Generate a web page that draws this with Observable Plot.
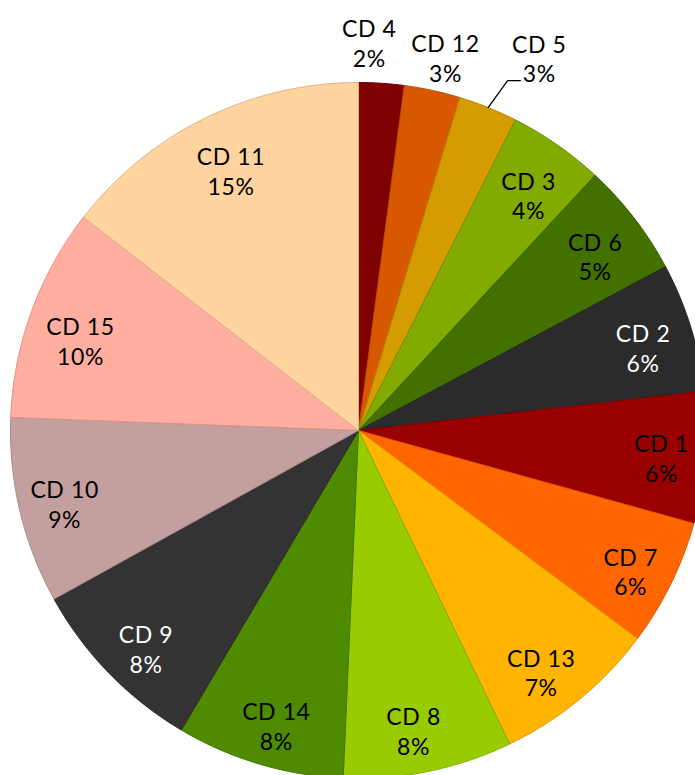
<!DOCTYPE html>
<html><head><meta charset="utf-8">
<script src="https://cdn.jsdelivr.net/npm/d3@7"></script>
<script src="https://cdn.jsdelivr.net/npm/@observablehq/plot@0.6"></script>
<style>html,body{margin:0;padding:0;background:#fff;overflow:hidden} svg{display:block} svg text{letter-spacing:0.6px}</style>
</head><body><div id="chart"></div>
<script>
// Data (clockwise from 12 o'clock)
const categories = ["CD 4","CD 12","CD 5","CD 3","CD 6","CD 2","CD 1","CD 7","CD 13","CD 8","CD 14","CD 9","CD 10","CD 15","CD 11"];
const shares     = [2.1, 2.6, 2.75, 4.45, 5.3, 6.0, 6.1, 5.9, 7.65, 7.85, 7.8, 8.45, 8.65, 9.9, 14.5];
const pctLabels  = ["2%","3%","3%","4%","5%","6%","6%","6%","7%","8%","8%","8%","9%","10%","15%"];
const colors     = ["#7f0000","#d75800","#d49c00","#82aa00","#437100","#2b2b2b","#990000","#ff6600","#ffb400","#99cc00","#4f8b00","#333333","#c49f9f","#ffaea0","#ffd49e"];
const whiteText  = ["CD 2","CD 9"];

// layout config (label distance from centre as a fraction of the radius, angle tweak in degrees)
const labelPlace = {
  "CD 4": {r: 1.115, da: -2.2}, "CD 12": {r: 1.10, da: 0.9}, "CD 5": {r: 1.19, da: 4},
  "CD 3": {r: 0.835, da: 1}, "CD 6": {r: 0.845, da: 1.2}, "CD 2": {r: 0.852, da: 1}, "CD 1": {r: 0.874, da: 0.5},
  "CD 7": {r: 0.88, da: 1.2}, "CD 13": {r: 0.87, da: 2.4}, "CD 8": {r: 0.876, da: 1.2}, "CD 14": {r: 0.88, da: -1},
  "CD 9": {r: 0.874, da: -1.5}, "CD 10": {r: 0.87, da: -0.5}, "CD 15": {r: 0.84, da: -2}, "CD 11": {r: 0.833}
};
const font = "Lato, 'Gill Sans', 'Open Sans', sans-serif";

const total = d3.sum(shares);
const rad = Math.PI / 180;
let acc = 0;
const slices = categories.map((c, i) => {
  const a0 = acc / total * 2 * Math.PI; acc += shares[i];
  const a1 = acc / total * 2 * Math.PI;
  return {c, i, a0, a1, mid: (a0 + a1) / 2};
});

const sliceMarks = slices.map(s => {
  const n = Math.max(2, Math.ceil((s.a1 - s.a0) / (0.4 * rad)));
  const pts = [{x: 0, y: 0}];
  for (let k = 0; k <= n; k++) {
    const a = s.a0 + (s.a1 - s.a0) * k / n;
    pts.push({x: Math.sin(a), y: Math.cos(a)});
  }
  pts.push({x: 0, y: 0});
  return Plot.line(pts, {x: "x", y: "y", fill: colors[s.i], stroke: d3.color(colors[s.i]).darker(0.45).formatHex(), strokeWidth: 1, strokeLinejoin: "round"});
});

const labelData = slices.map(s => {
  const o = labelPlace[s.c] || {r: 0.86};
  const a = s.mid + (o.da ? o.da * rad : 0);
  return {x: o.r * Math.sin(a), y: o.r * Math.cos(a), text: s.c + "\n" + pctLabels[s.i], white: whiteText.includes(s.c)};
});

// leader line for CD 5
const s5 = slices[categories.indexOf("CD 5")];
const elbowA = s5.mid + 1.2 * rad, elbowR = 1.093;
const leader = [
  {x: Math.sin(s5.mid), y: Math.cos(s5.mid)},
  {x: elbowR * Math.sin(elbowA), y: elbowR * Math.cos(elbowA)},
  {x: elbowR * Math.sin(elbowA) + 0.037, y: elbowR * Math.cos(elbowA)}
];

const textOpts = {x: "x", y: "y", text: "text", fontSize: 23, lineHeight: 1.3, fontFamily: font, textAnchor: "middle", lineAnchor: "middle"};
const chart = Plot.plot({
  width: 695, height: 775,
  margin: 0,
  style: {background: "#fff"},
  x: {domain: [-1, 1], range: [10, 706], axis: null},
  y: {domain: [-1, 1], range: [778, 82], axis: null},
  marks: [
    ...sliceMarks,
    Plot.line(leader, {x: "x", y: "y", stroke: "#000", strokeWidth: 1.3}),
    Plot.text(labelData.filter(d => !d.white), {...textOpts, fill: "#000"}),
    Plot.text(labelData.filter(d => d.white), {...textOpts, fill: "#fff"})
  ]
});
document.getElementById("chart").append(chart);
</script>
</body></html>
